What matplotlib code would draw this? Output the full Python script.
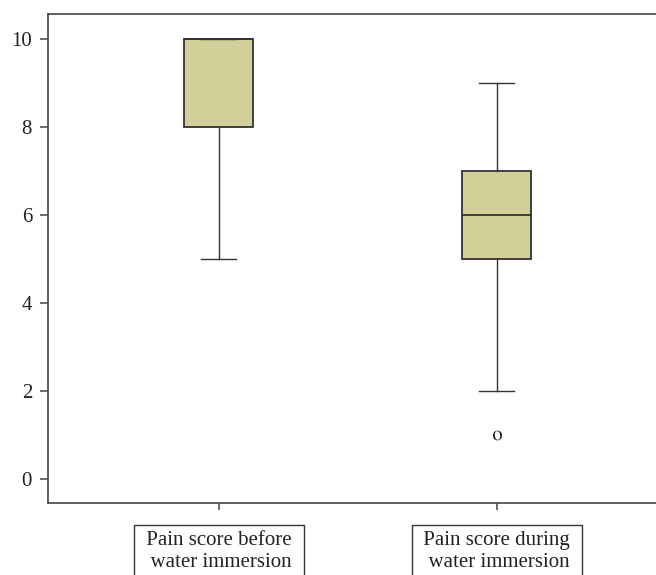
import matplotlib.pyplot as plt

plt.rcParams["font.family"] = ["Liberation Serif", "DejaVu Serif"]
plt.rcParams["mathtext.fontset"] = "stix"

# box statistics
labels = [" Pain score before \n  water immersion \n ", " Pain score during \n  water immersion \n "]
medians = [10, 6]
q1s = [8, 5]
q3s = [10, 7]
whis_low = [5, 2]
whis_high = [10, 9]
outliers = [[], [1]]

stats = []
for i in range(len(labels)):
    stats.append({
        "med": medians[i], "q1": q1s[i], "q3": q3s[i],
        "whislo": whis_low[i], "whishi": whis_high[i],
        "fliers": outliers[i], "label": labels[i],
    })

fig = plt.figure(figsize=(6.56, 5.75), dpi=100)
ax = fig.add_axes([0.0732, 0.1252, 0.94, 0.8505])

edge = "#333333"
bp = ax.bxp(stats, positions=[1, 2], widths=0.248, patch_artist=True,
            boxprops=dict(facecolor="#d3cf98", edgecolor=edge, linewidth=1.3),
            medianprops=dict(color=edge, linewidth=1.3),
            whiskerprops=dict(color=edge, linewidth=1.0),
            capprops=dict(color=edge, linewidth=1.0),
            capwidths=0.126,
            flierprops=dict(marker="$\\mathrm{o}$", markersize=7,
                            markerfacecolor="#222222", markeredgecolor="#222222",
                            markeredgewidth=0))

ax.set_xlim(0.385, 2.604)
ax.set_ylim(-0.55, 10.57)
ax.set_yticks([0, 2, 4, 6, 8, 10])

for s in ax.spines.values():
    s.set_color("#444444")
    s.set_linewidth(1.2)

ax.tick_params(axis="y", length=6, width=1.1, color="#444444", pad=5.5,
               labelsize=15, labelcolor="#222222")
ax.tick_params(axis="x", length=5, width=1.1, color="#444444", pad=15.3,
               labelsize=15, labelcolor="#222222")

for t in ax.get_xticklabels():
    t.set_verticalalignment("top")
    t.set_multialignment("center")
    t.set_linespacing(1.2)
    t.set_bbox(dict(boxstyle="square,pad=0.3", facecolor="white",
                    edgecolor="#333333", linewidth=1.0))

fig.savefig("out.png", dpi=100)
